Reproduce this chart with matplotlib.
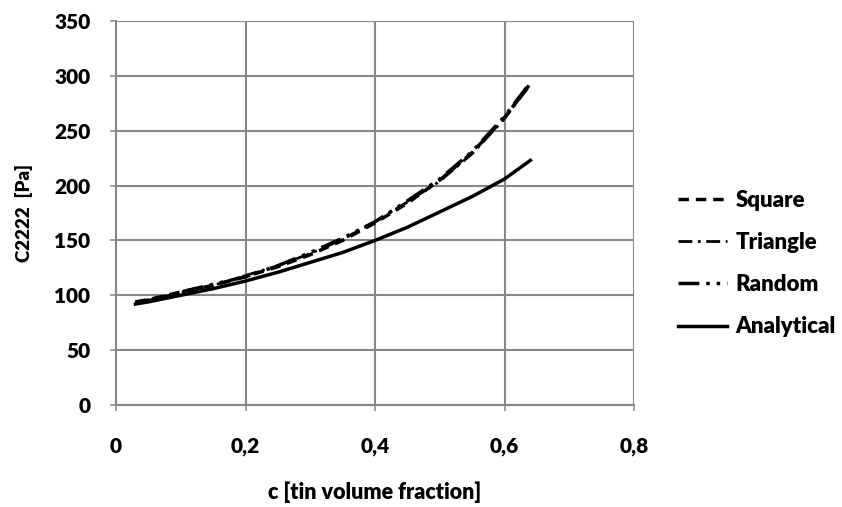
import matplotlib.pyplot as plt

plt.rcParams['font.family'] = ['Lato', 'DejaVu Sans']

# volume fraction samples
c = [0.03, 0.05, 0.1, 0.15, 0.2, 0.25, 0.3, 0.35, 0.4, 0.45, 0.5, 0.55, 0.6, 0.64]

square = [94, 96, 103, 109, 117, 126, 137, 150, 166, 184, 205, 230, 262, 293]
triangle = [94, 96, 102, 109, 118, 127, 138, 151, 167, 185, 204, 229, 261, 292]
rand = [93, 95, 103, 110, 117, 127, 139, 152, 167, 186, 206, 231, 263, 294]
analytical = [92, 94, 100, 106, 113, 121, 130, 139, 150, 162, 176, 190, 206, 223]

grid_col = '#878787'

fig = plt.figure(figsize=(8.42, 5.07), dpi=100)
ax = fig.add_axes([0.1378, 0.2012, 0.7530 - 0.1378, 0.9586 - 0.2012])

ax.plot(c, square, color='black', lw=2.5, ls=(0, (3, 2)), label='Square')
ax.plot(c, triangle, color='black', lw=2.0, ls=(0, (5, 2, 1, 2)), label='Triangle')
ax.plot(c, rand, color='black', lw=2.5, ls=(0, (6, 2, 1, 2, 1, 2)), label='Random')
ax.plot(c, analytical, color='black', lw=2.5, label='Analytical')

ax.set_xlim(0, 0.8)
ax.set_ylim(0, 350)
ax.set_xticks([0, 0.2, 0.4, 0.6, 0.8])
ax.set_xticklabels(['0', '0,2', '0,4', '0,6', '0,8'])
ax.set_yticks(range(0, 351, 50))
ax.grid(True, color=grid_col, lw=1.5)
ax.set_axisbelow(True)
for s in ['top', 'right']:
    ax.spines[s].set_visible(False)
for s in ['left', 'bottom']:
    ax.spines[s].set_color(grid_col)
    ax.spines[s].set_linewidth(1.5)
ax.tick_params(direction='out', length=4, width=1.1, color=grid_col, labelsize=15)
ax.tick_params(axis='x', pad=19)
ax.tick_params(axis='y', pad=14.5)
for lab in ax.get_xticklabels() + ax.get_yticklabels():
    lab.set_fontweight('heavy')

ax.set_xlabel('c [tin volume fraction]', fontsize=15.5, fontweight='heavy', labelpad=18)
ax.set_ylabel('C2222  [Pa]', fontsize=13.5, fontweight='heavy', labelpad=15.5)

leg = ax.legend(loc='center left', bbox_to_anchor=(1.046, 0.368), frameon=False,
                prop={'size': 16, 'weight': 'heavy'}, handlelength=2.2,
                handletextpad=0.4, labelspacing=0.95)

fig.savefig('out.png', dpi=100)
